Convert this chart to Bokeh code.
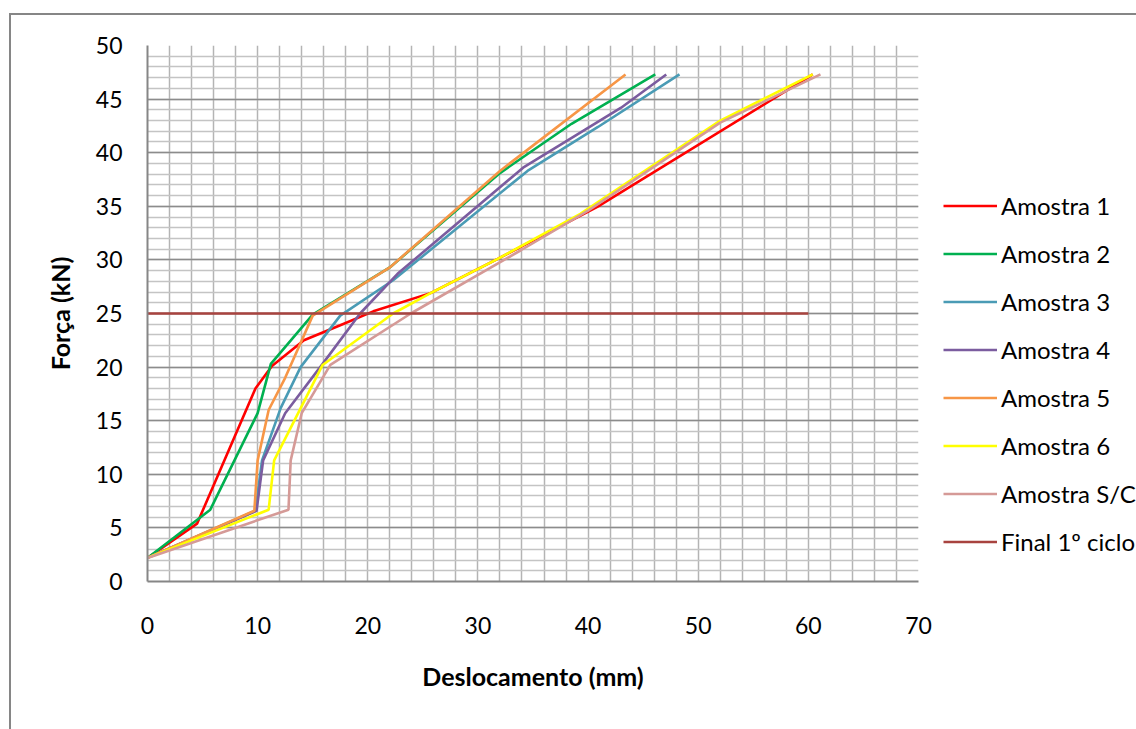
from bokeh.plotting import figure
from bokeh.models import Range1d, SingleIntervalTicker, FixedTicker, Legend, LegendItem
from bokeh.embed import file_html
from bokeh.resources import INLINE

# ---- data ----
a1_x = [0, 4.5, 9.8, 11.3, 14.2, 17.5, 20.5, 25.7, 31.8, 41.1, 60.4]
a1_y = [2.2, 5.4, 18.0, 20.1, 22.5, 23.9, 25.2, 26.9, 30.1, 35.1, 47.3]

a2_x = [0, 5.7, 10.0, 11.2, 15.0, 22.0, 32.0, 38.5, 46.1]
a2_y = [2.2, 6.7, 15.7, 20.3, 24.9, 29.3, 38.1, 42.7, 47.3]

a3_x = [0, 9.8, 10.4, 12.1, 13.9, 17.5, 22.3, 34.5, 40.9, 48.3]
a3_y = [2.2, 6.6, 11.3, 16.2, 20.0, 24.8, 28.1, 38.3, 42.4, 47.3]

a4_x = [0, 9.9, 10.5, 12.5, 15.9, 19.3, 22.7, 34.1, 43.0, 47.1]
a4_y = [2.2, 6.6, 11.3, 15.7, 20.3, 25.0, 28.7, 38.6, 44.2, 47.3]

a5_x = [0, 9.7, 10.0, 11.0, 12.5, 15.0, 22.0, 32.0, 43.4]
a5_y = [2.2, 6.6, 11.3, 16.0, 19.0, 24.8, 29.3, 38.3, 47.3]

a6_x = [0, 11.0, 11.5, 15.9, 22.3, 25.7, 31.8, 39.3, 52.0, 60.4]
a6_y = [2.2, 6.7, 11.3, 20.2, 25.0, 26.9, 30.1, 34.3, 43.0, 47.3]

sc_x = [0, 12.8, 13.0, 14.0, 16.6, 23.9, 33.9, 40.0, 52.0, 61.1]
sc_y = [2.2, 6.7, 11.3, 15.7, 20.2, 25.0, 30.9, 34.6, 42.8, 47.3]

fc_x = [0, 60]
fc_y = [25, 25]

labels = ["Amostra 1", "Amostra 2", "Amostra 3", "Amostra 4",
          "Amostra 5", "Amostra 6", "Amostra S/C", "Final 1º ciclo"]
colors = ["#FF0000", "#00B050", "#4A9BB5", "#7B5C9F",
          "#F79646", "#FFFF00", "#D59A97", "#A8433F"]

x_ticks = [0, 10, 20, 30, 40, 50, 60, 70]
y_ticks = [0, 5, 10, 15, 20, 25, 30, 35, 40, 45, 50]

FONT = "Lato"

p = figure(width=None, height=None, frame_width=771, frame_height=536,
           min_border_left=136, min_border_top=30, min_border_right=218,
           min_border_bottom=148,
           x_range=Range1d(0, 70), y_range=Range1d(0, 50),
           output_backend="svg", toolbar_location=None)
p.styles = {"border-left": "2px solid #868686", "border-top": "2px solid #868686",
            "margin-left": "9px", "margin-top": "13px"}
p.outline_line_color = None
p.background_fill_color = "white"
p.border_fill_color = "white"

# grids
p.xgrid.ticker = SingleIntervalTicker(interval=2, num_minor_ticks=0)
p.xgrid.grid_line_color = "#B4B4B4"
p.xgrid.grid_line_width = 1.5
p.ygrid.ticker = SingleIntervalTicker(interval=5, num_minor_ticks=5)
p.ygrid.grid_line_color = "#8C8C8C"
p.ygrid.grid_line_width = 1.5
p.ygrid.minor_grid_line_color = "#C4C4C4"
p.ygrid.minor_grid_line_width = 1.5

# axes
for ax in (p.xaxis[0], p.yaxis[0]):
    ax.major_tick_line_color = None
    ax.minor_tick_line_color = None
    ax.axis_line_color = "#868686"
    ax.axis_line_width = 2
    ax.major_label_text_font = FONT
    ax.major_label_text_font_size = "23px"
    ax.major_label_text_color = "#000000"
    ax.axis_label_text_font = FONT
    ax.axis_label_text_font_size = "25px"
    ax.axis_label_text_font_style = "bold"
    ax.axis_label_text_color = "#000000"

p.xaxis.ticker = FixedTicker(ticks=x_ticks)
p.yaxis.ticker = FixedTicker(ticks=y_ticks)
p.xaxis.axis_label = "Deslocamento (mm)"
p.yaxis.axis_label = "Força (kN)"
p.xaxis.major_label_standoff = 29
p.xaxis.axis_label_standoff = 24
p.yaxis.major_label_standoff = 19
p.yaxis.axis_label_standoff = 18

series = [(a1_x, a1_y), (a2_x, a2_y), (a3_x, a3_y), (a4_x, a4_y),
          (a5_x, a5_y), (a6_x, a6_y), (sc_x, sc_y), (fc_x, fc_y)]
items = []
for (xs, ys), lab, col in zip(series, labels, colors):
    r = p.line(xs, ys, line_color=col, line_width=2.6)
    items.append(LegendItem(label=lab, renderers=[r]))

legend = Legend(items=items, location=(25, 25), margin=0, padding=0,
                spacing=19, glyph_width=54, glyph_height=29, label_height=29,
                label_standoff=4, label_text_font=FONT,
                label_text_font_size="24px", label_text_color="#000000",
                border_line_color=None, background_fill_alpha=0)
p.add_layout(legend, "right")

open("out.html", "w").write(file_html(p, INLINE))
